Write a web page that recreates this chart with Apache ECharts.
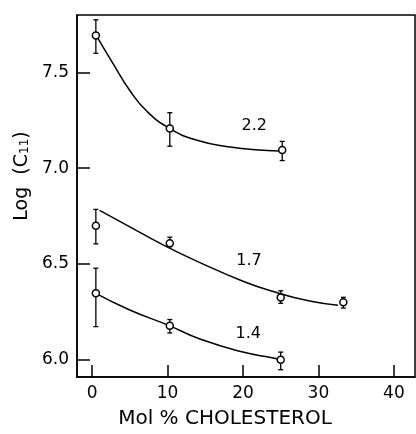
<!DOCTYPE html>
<html>
<head>
<meta charset="utf-8">
<script src="https://cdn.jsdelivr.net/npm/echarts@6/dist/echarts.min.js"></script>
<style>
  html, body { margin: 0; padding: 0; background: #fff; }
  #chart-panel { width: 416px; height: 434px; }
</style>
</head>
<body>
<div id="chart-panel"></div>
<script>
// measured points, x = mol % cholesterol, y = log(C11)
const xTicks = [0, 10, 20, 30, 40]
const yTicks = [6.0, 6.5, 7.0, 7.5]

const x22 = [0.5, 10.3, 25.2]
const y22 = [7.693, 7.207, 7.095]
const lo22 = [7.60, 7.115, 7.04]
const hi22 = [7.775, 7.29, 7.14]

const x17 = [0.5, 10.3, 25, 33.3]
const y17 = [6.70, 6.608, 6.325, 6.30]
const lo17 = [6.605, 6.59, 6.295, 6.27]
const hi17 = [6.785, 6.64, 6.36, 6.326]

const x14 = [0.5, 10.3, 25]
const y14 = [6.347, 6.177, 6.0]
const lo14 = [6.173, 6.14, 5.948]
const hi14 = [6.478, 6.21, 6.04]

// fitted curves
const curve22 = [[0.6, 7.69], [2.8, 7.545], [5.0, 7.406], [7.2, 7.30], [10.3, 7.207], [13.9, 7.146], [18.3, 7.111], [22.7, 7.094], [25, 7.09]]
const curve17 = [[1.0, 6.78], [5.0, 6.694], [9.4, 6.60], [14.3, 6.507], [20, 6.41], [24, 6.356], [29, 6.305], [32.6, 6.285]]
const curve14 = [[0.5, 6.347], [5.0, 6.26], [10.3, 6.177], [14.3, 6.108], [20, 6.04], [24, 6.009], [25, 6.0]]

const curveNames = ["2.2", "1.7", "1.4"]
const curveLabelX = [21.5, 20.8, 20.7]
const curveLabelY = [7.22, 6.516, 6.136]

const font = "DejaVu Sans"
const chart = echarts.init(document.getElementById("chart-panel"), null, { renderer: "canvas" })

const zip = (xs, ys) => xs.map((x, i) => [x, ys[i]])
const errData = (xs, lo, hi) => xs.map((x, i) => [x, lo[i], hi[i]])

const lineSeries = (data) => ({
  type: "line",
  data: data,
  smooth: 0.5,
  symbol: "none",
  lineStyle: { color: "#000", width: 1.5 },
  z: 2
})

const errSeries = (data) => ({
  type: "custom",
  data: data,
  z: 3,
  renderItem: (params, api) => {
    const top = api.coord([api.value(0), api.value(2)])
    const bot = api.coord([api.value(0), api.value(1)])
    const cap = 2.5
    const style = { stroke: "#000", lineWidth: 1.3 }
    return {
      type: "group",
      children: [
        { type: "line", shape: { x1: top[0], y1: top[1], x2: bot[0], y2: bot[1] }, style },
        { type: "line", shape: { x1: top[0] - cap, y1: top[1], x2: top[0] + cap, y2: top[1] }, style },
        { type: "line", shape: { x1: bot[0] - cap, y1: bot[1], x2: bot[0] + cap, y2: bot[1] }, style }
      ]
    }
  }
})

const pointSeries = (data) => ({
  type: "scatter",
  data: data,
  symbol: "circle",
  symbolSize: 7,
  itemStyle: { color: "#fff", borderColor: "#000", borderWidth: 1.5, opacity: 1 },
  z: 4
})

const option = {
  backgroundColor: "#fff",
  animation: false,
  grid: {
    left: 77,
    top: 15,
    right: 1,
    bottom: 57,
    show: true,
    borderColor: "#000",
    borderWidth: 1.5
  },
  xAxis: {
    type: "value",
    min: -2,
    max: 42.8,
    name: "Mol % CHOLESTEROL",
    nameLocation: "middle",
    nameGap: 32,
    nameTextStyle: { fontFamily: font, fontSize: 20, color: "#000", padding: [0, 42, 0, 0] },
    axisLine: { show: true, onZero: false, lineStyle: { color: "#000", width: 1.5 } },
    axisTick: { show: true, inside: true, length: 12, customValues: xTicks, lineStyle: { color: "#000", width: 1.5 } },
    axisLabel: { customValues: xTicks, margin: 8, fontFamily: font, fontSize: 17, color: "#000" },
    splitLine: { show: false }
  },
  yAxis: {
    type: "value",
    min: 5.91,
    max: 7.8,
    name: "Log  (C{s|11})",
    nameLocation: "middle",
    nameGap: 42,
    nameRotate: 90,
    nameTextStyle: {
      fontFamily: font,
      fontSize: 19,
      color: "#000",
      padding: [0, 0, 0, 40],
      rich: { s: { fontFamily: font, fontSize: 12, color: "#000", verticalAlign: "bottom", padding: [6, 0, 0, 0] } }
    },
    axisLine: { show: true, onZero: false, lineStyle: { color: "#000", width: 1.5 } },
    axisTick: { show: true, inside: true, length: 13, customValues: yTicks, lineStyle: { color: "#000", width: 1.5 } },
    axisLabel: {
      customValues: yTicks,
      margin: 8,
      fontFamily: font,
      fontSize: 17,
      color: "#000",
      formatter: (v) => v.toFixed(1)
    },
    splitLine: { show: false }
  },
  series: [
    lineSeries(curve22),
    lineSeries(curve17),
    lineSeries(curve14),
    errSeries(errData(x22, lo22, hi22)),
    errSeries(errData(x17, lo17, hi17)),
    errSeries(errData(x14, lo14, hi14)),
    pointSeries(zip(x22, y22)),
    pointSeries(zip(x17, y17)),
    pointSeries(zip(x14, y14)),
    {
      type: "scatter",
      symbolSize: 0,
      silent: true,
      itemStyle: { opacity: 1 },
      data: curveNames.map((n, i) => ({ name: n, value: [curveLabelX[i], curveLabelY[i]] })),
      label: {
        show: true,
        position: "inside",
        formatter: (p) => p.name,
        fontFamily: font,
        fontSize: 16,
        color: "#000",
        textBorderWidth: 0
      },
      z: 5
    }
  ]
}

chart.setOption(option)
</script>
</body>
</html>
